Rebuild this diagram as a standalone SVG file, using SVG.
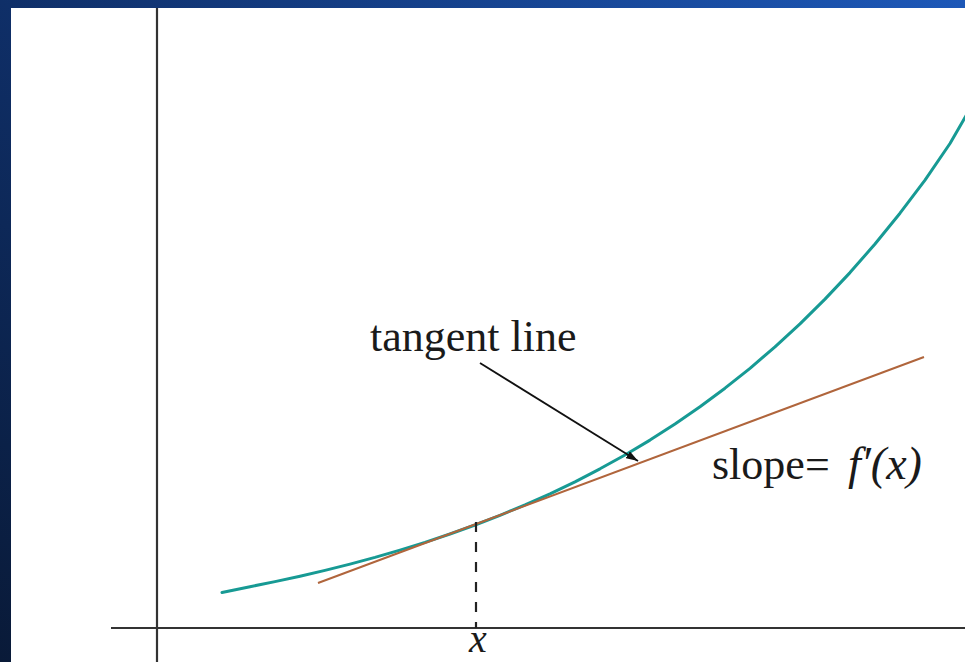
<svg xmlns="http://www.w3.org/2000/svg" width="965" height="662" viewBox="0 0 965 662">
<defs>
<linearGradient id="bg" x1="0" y1="1" x2="1" y2="0">
<stop offset="0" stop-color="#091a38"/>
<stop offset="0.5" stop-color="#0f2f68"/>
<stop offset="1" stop-color="#1d58b8"/>
</linearGradient>
<marker id="arrow" viewBox="0 0 12 8" refX="12" refY="4" markerWidth="12" markerHeight="8" markerUnits="userSpaceOnUse" orient="auto">
<path d="M0,0 L12,4 L0,8 Z" fill="#111"/>
</marker>
<style>
.axis{stroke:#333;stroke-width:2.2;fill:none}
.curve{stroke:#179a94;stroke-width:3;fill:none;stroke-linecap:round;stroke-linejoin:round}
.tangent{stroke:#b0653c;stroke-width:2;fill:none}
.dash{stroke:#222;stroke-width:2.2;stroke-dasharray:10 10;fill:none}
.lbl{font-family:"Liberation Serif","Times New Roman",serif;font-size:44px;fill:#1a1a1a}
.it{font-style:italic}
</style>
</defs>
<rect x="0" y="0" width="965" height="662" fill="url(#bg)"/>
<rect x="11" y="8" width="954" height="654" fill="#ffffff"/>
<g id="axes">
<line class="axis" x1="157" y1="8" x2="157" y2="662"/>
<line class="axis" x1="111" y1="628" x2="965" y2="628"/>
</g>
<g id="function-curve">
<path class="curve" d="M222,592.5 L250,586.7 L275,581.6 L300,576.2 L325,570.4 L350,564.1 L375,557.4 L400,550.1 L425,542.4 L450,534 L475,525 L500,515.3 L525,504.9 L550,493.8 L575,481.8 L600,468.8 L625,455 L650,440.1 L675,424 L700,406.8 L725,388.2 L750,368.3 L775,346.9 L800,323.9 L825,299.1 L850,272.6 L875,244 L900,213.2 L925,180.2 L950,143.5 L967,114"/>
</g>
<g id="tangent-line">
<line class="tangent" x1="318" y1="583" x2="924" y2="357"/>
</g>
<g id="connectors">
<line class="dash" x1="476" y1="522" x2="476" y2="628"/>
<line x1="480" y1="363" x2="638" y2="461" stroke="#111" stroke-width="1.8" marker-end="url(#arrow)"/>
</g>
<g id="label-x">
<text class="lbl it" x="469" y="652" style="font-size:40px">x</text>
</g>
<g id="label-tangent">
<text class="lbl" x="370" y="351">tangent line</text>
</g>
<g id="label-slope">
<text class="lbl" x="712" y="479">slope=</text>
<text class="lbl it" x="848" y="479" style="font-size:46px">f′(x)</text>
</g>
</svg>
